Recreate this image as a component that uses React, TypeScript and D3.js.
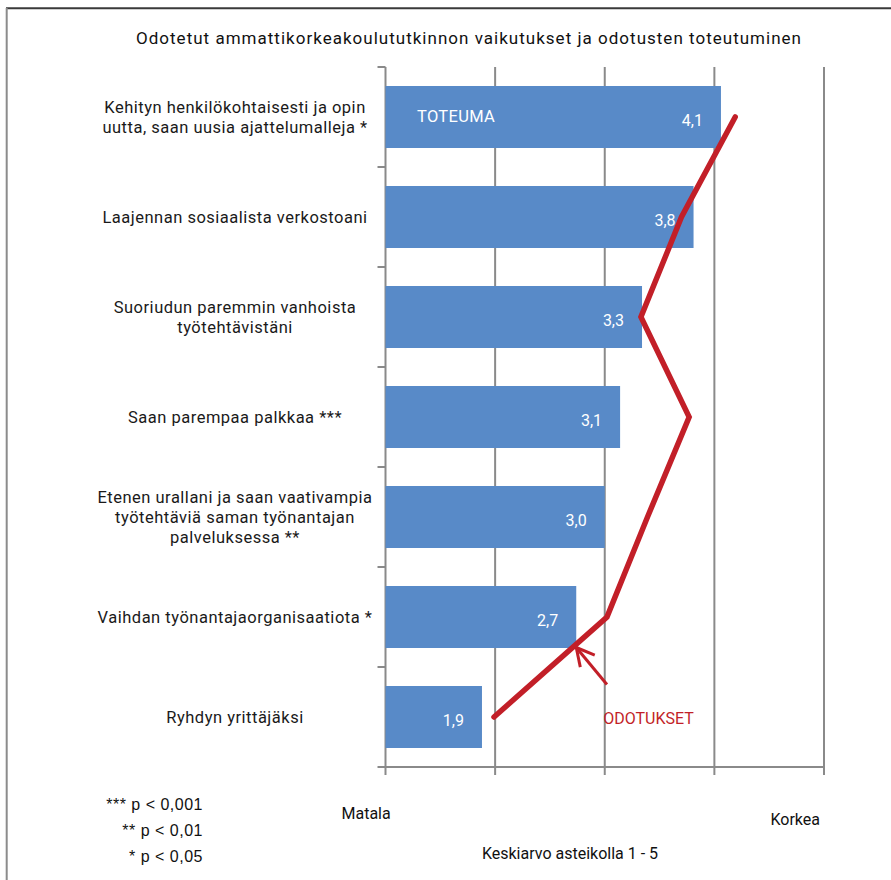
import React from "react";
import * as d3 from "d3";

const title = "Odotetut ammattikorkeakoulututkinnon vaikutukset ja odotusten toteutuminen";
const categories: string[][] = [
  ["Kehityn henkilökohtaisesti ja opin", "uutta, saan uusia ajattelumalleja *"],
  ["Laajennan sosiaalista verkostoani"],
  ["Suoriudun paremmin vanhoista", "työtehtävistäni"],
  ["Saan parempaa palkkaa ***"],
  ["Etenen urallani ja saan vaativampia", "työtehtäviä saman työnantajan", "palveluksessa **"],
  ["Vaihdan työnantajaorganisaatiota *"],
  ["Ryhdyn yrittäjäksi"],
];
const toteuma = [4.06, 3.81, 3.34, 3.14, 3.0, 2.74, 1.88];
const odotukset = [4.19, 3.7, 3.33, 3.77, 3.39, 3.02, 1.99];
const xTicks = [1, 2, 3, 4, 5];
const footnotes = ["*** p < 0,001", "** p < 0,01", "* p < 0,05"];
const barSeriesName = "TOTEUMA";
const lineSeriesName = "ODOTUKSET";
const lowLabel = "Matala";
const highLabel = "Korkea";
const axisTitle = "Keskiarvo asteikolla 1 - 5";

const W = 891;
const H = 880;
const LEFT = 385.5;
const RIGHT = 824;
const TOP = 67;
const BOTTOM = 767;

const BAR = "#588ac8";
const RED = "#c21f28";
const GRID = "#8a8a8a";
const FONT = "Roboto, 'DejaVu Sans', sans-serif";

export default function App() {
  const x = d3.scaleLinear().domain([1, 5]).range([LEFT, RIGHT]);
  const y = d3
    .scaleBand<number>()
    .domain(d3.range(categories.length))
    .range([TOP, BOTTOM])
    .paddingInner(0.38)
    .paddingOuter(0.19);
  const step = y.step();
  const cy = (i: number) => (y(i) as number) + y.bandwidth() / 2;
  const fmt = (v: number) => v.toFixed(1).replace(".", ",");

  const line = d3
    .line<number>()
    .x((d) => x(d))
    .y((_, i) => cy(i));

  // arrow annotation pointing at the expectations line
  const last = categories.length - 1;
  const tip: [number, number] = [x(2.74), cy(last - 1) + 0.305 * step];
  const tail: [number, number] = [x(3.02), cy(last - 1) + 0.675 * step];
  const ang = Math.atan2(tail[1] - tip[1], tail[0] - tip[0]);
  const headLen = 20;
  const headA = (28 * Math.PI) / 180;
  const h1: [number, number] = [tip[0] + headLen * Math.cos(ang - headA), tip[1] + headLen * Math.sin(ang - headA)];
  const h2: [number, number] = [tip[0] + headLen * Math.cos(ang + headA), tip[1] + headLen * Math.sin(ang + headA)];

  const catTicks = d3.range(categories.length + 1).map((i) => TOP + i * step);

  return (
    <svg
      width={W}
      height={H}
      viewBox={`0 0 ${W} ${H}`}
      style={{ position: "absolute", left: 0, top: 0, background: "#fff" }}
    >
      <rect x={0} y={0} width={W} height={H} fill="#fff" />
      {/* frame */}
      <line x1={6} y1={8.3} x2={W} y2={8.3} stroke="#3a3a3a" strokeWidth={2} />
      <line x1={6.7} y1={8} x2={6.7} y2={H} stroke="#8c8c8c" strokeWidth={2} />

      {/* title */}
      <text
        x={(136 + 801) / 2}
        y={43.5}
        textAnchor="middle"
        fontFamily={FONT}
        fontSize={17}
        fill="#111"
        textLength={665}
        lengthAdjust="spacing"
      >
        {title}
      </text>

      {/* gridlines */}
      {xTicks.slice(1).map((t) => (
        <line key={t} x1={x(t)} x2={x(t)} y1={TOP} y2={BOTTOM + 8} stroke={GRID} strokeWidth={2} />
      ))}
      {/* y axis */}
      <line x1={LEFT} x2={LEFT} y1={TOP} y2={BOTTOM + 8} stroke={GRID} strokeWidth={2} />
      {catTicks.map((t, i) => (
        <line key={i} x1={LEFT - 8} x2={LEFT} y1={t} y2={t} stroke={GRID} strokeWidth={2} />
      ))}
      {/* x axis */}
      <line x1={LEFT} x2={RIGHT} y1={BOTTOM} y2={BOTTOM} stroke={GRID} strokeWidth={2} />

      {/* bars */}
      {toteuma.map((v, i) => (
        <rect key={i} x={x(1)} y={y(i)} width={x(v) - x(1)} height={y.bandwidth()} fill={BAR} />
      ))}
      {/* value labels */}
      {toteuma.map((v, i) => (
        <text
          key={i}
          x={x(v) - 18}
          y={cy(i) + 8.5}
          textAnchor="end"
          fontFamily={FONT}
          fontSize={16}
          fill="#fff"
        >
          {fmt(v)}
        </text>
      ))}
      <text x={x(1) + 31.5} y={cy(0) + 4.5} fontFamily={FONT} fontSize={16.5} fill="#fff" letterSpacing={0.3}>
        {barSeriesName}
      </text>

      {/* category labels */}
      {categories.map((lines, i) => (
        <text
          key={i}
          textAnchor="middle"
          fontFamily={FONT}
          fontSize={16.5}
          letterSpacing={0.5}
          fill="#1a1a1a"
        >
          {lines.map((l, j) => (
            <tspan key={j} x={235} y={cy(i) - (lines.length - 1) * 10 + 6 + j * 20}>
              {l}
            </tspan>
          ))}
        </text>
      ))}

      {/* expectations line */}
      <path
        d={line(odotukset) as string}
        fill="none"
        stroke={RED}
        strokeWidth={5.5}
        strokeLinejoin="miter"
        strokeLinecap="round"
      />
      {/* arrow */}
      <g stroke={RED} strokeWidth={3} strokeLinecap="butt" fill="none">
        <line x1={tail[0]} y1={tail[1]} x2={tip[0]} y2={tip[1]} />
        <line x1={tip[0]} y1={tip[1]} x2={h1[0]} y2={h1[1]} />
        <line x1={tip[0]} y1={tip[1]} x2={h2[0]} y2={h2[1]} />
      </g>
      <text x={x(3) - 1.5} y={cy(last) + 6.5} fontFamily={FONT} fontSize={16} fill={RED}>
        {lineSeriesName}
      </text>

      {/* footnotes */}
      {footnotes.map((f, i) => (
        <text
          key={i}
          x={203}
          y={810 + i * 26}
          textAnchor="end"
          fontFamily="'Liberation Sans', Arial, sans-serif"
          fontSize={16}
          letterSpacing={0.5}
          fill="#111"
          style={{ whiteSpace: "pre" }}
        >
          {f}
        </text>
      ))}

      {/* axis end labels */}
      <text x={x(1) - 44} y={818.5} fontFamily={FONT} fontSize={16} fill="#111">
        {lowLabel}
      </text>
      <text x={x(5) - 4} y={824.5} textAnchor="end" fontFamily={FONT} fontSize={16} fill="#111">
        {highLabel}
      </text>
      <text x={570} y={858.5} textAnchor="middle" fontFamily={FONT} fontSize={16} fill="#111">
        {axisTitle}
      </text>
    </svg>
  );
}
